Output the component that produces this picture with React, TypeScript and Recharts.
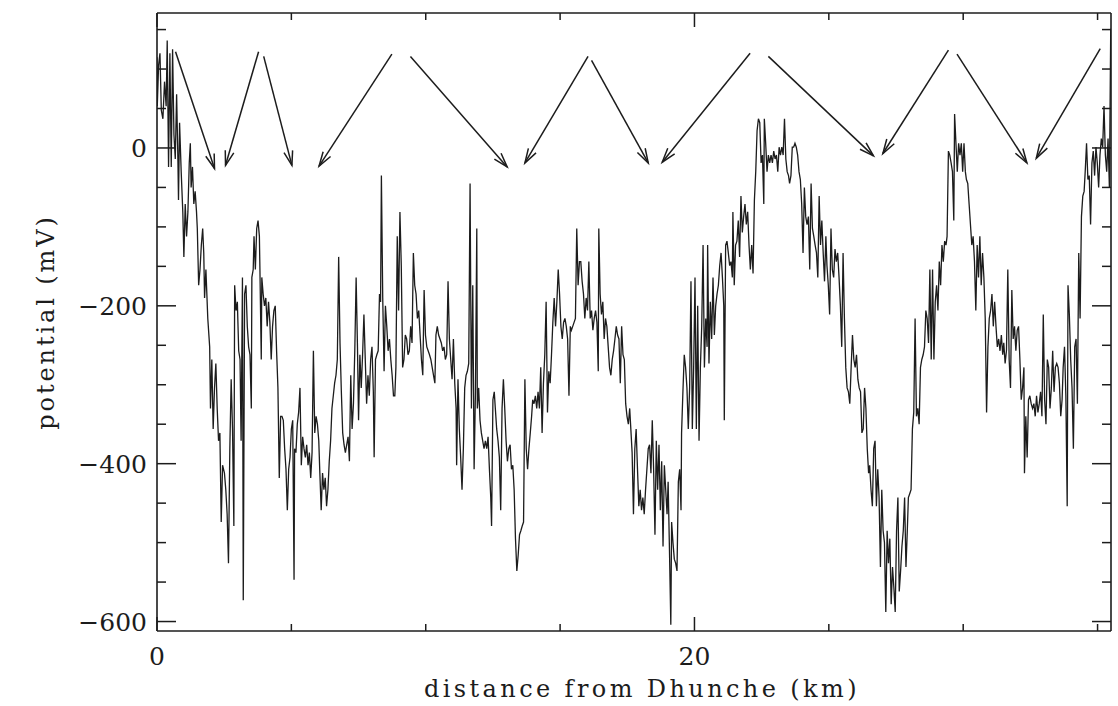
import { LineChart, Line, XAxis, YAxis, ReferenceLine } from "recharts";

const INK = "#1c1c1c";
const FONT = "'DejaVu Serif', 'Liberation Serif', serif";

// [distance km, potential mV], in four stretches
const trace0to9: [number, number][] = [
  [0, 115], [0.01, 53], [0.06, 105], [0.11, 120], [0.16, 48], [0.22, 37], [0.28, 84], [0.34, 53], [0.38, 136], [0.43, -24],
  [0.48, 120], [0.53, -24], [0.58, 125], [0.63, 17], [0.68, -14], [0.73, 68], [0.78, -19], [0.8, -66], [0.84, 32], [0.9, -30],
  [0.96, -81], [1.0, -138], [1.05, -71], [1.1, -112], [1.15, -81], [1.2, -19], [1.24, 6], [1.27, -50], [1.32, -24], [1.37, -71],
  [1.42, -55], [1.47, -81], [1.5, -102], [1.55, -174], [1.6, -154], [1.65, -123], [1.7, -102], [1.74, -133], [1.77, -190], [1.82, -154],
  [1.89, -216], [1.96, -252], [1.99, -330], [2.04, -268], [2.09, -356], [2.14, -304], [2.19, -273], [2.24, -330], [2.29, -371], [2.34, -361],
  [2.39, -474], [2.44, -402], [2.51, -412], [2.56, -433], [2.61, -464], [2.66, -526], [2.71, -381], [2.76, -293], [2.81, -356], [2.86, -479],
  [2.89, -174], [2.94, -206], [2.99, -195], [3.04, -257], [3.09, -268], [3.13, -371], [3.18, -164], [3.21, -573], [3.26, -185], [3.31, -174],
  [3.36, -226], [3.41, -252], [3.46, -262], [3.51, -330], [3.53, -164], [3.58, -154], [3.61, -112], [3.66, -154], [3.71, -102], [3.76, -92],
  [3.81, -112], [3.83, -154], [3.88, -268], [3.9, -164], [3.95, -185], [4.0, -200], [4.05, -190], [4.1, -226], [4.15, -195], [4.2, -221],
  [4.25, -268], [4.3, -226], [4.35, -206], [4.4, -200], [4.45, -257], [4.5, -304], [4.55, -418], [4.6, -340], [4.65, -340], [4.7, -345],
  [4.75, -381], [4.8, -407], [4.85, -459], [4.9, -407], [4.95, -392], [5.0, -356], [5.05, -345], [5.1, -547], [5.12, -381], [5.17, -386],
  [5.22, -350], [5.27, -335], [5.32, -304], [5.37, -402], [5.42, -366], [5.47, -381], [5.52, -392], [5.57, -376], [5.62, -402], [5.67, -386],
  [5.72, -418], [5.77, -386], [5.82, -257], [5.87, -361], [5.92, -340], [5.97, -350], [6.02, -371], [6.06, -412], [6.11, -459], [6.16, -412],
  [6.21, -433], [6.26, -418], [6.31, -454], [6.36, -433], [6.41, -397], [6.46, -371], [6.51, -330], [6.56, -314], [6.61, -298], [6.66, -288],
  [6.71, -268], [6.76, -138], [6.81, -247], [6.86, -309], [6.91, -361], [6.96, -376], [7.01, -386], [7.06, -376], [7.11, -366], [7.16, -397],
  [7.21, -288], [7.26, -356], [7.31, -324], [7.36, -257], [7.41, -164], [7.46, -252], [7.5, -345], [7.55, -262], [7.6, -304], [7.65, -262],
  [7.7, -211], [7.75, -268], [7.8, -324], [7.85, -288], [7.9, -314], [7.95, -268], [8.0, -252], [8.05, -309], [8.08, -392], [8.13, -268],
  [8.18, -262], [8.23, -257], [8.28, -185], [8.32, -195], [8.35, -35], [8.4, -190], [8.45, -283], [8.5, -200], [8.55, -226], [8.6, -257],
  [8.65, -242], [8.7, -268], [8.75, -288], [8.8, -314],
];

const trace9to18: [number, number][] = [
  [8.85, -314], [8.89, -278], [8.94, -112], [8.99, -206], [9.04, -81], [9.09, -149], [9.14, -278], [9.19, -268], [9.24, -237], [9.29, -242],
  [9.34, -262], [9.39, -257], [9.44, -226], [9.49, -247], [9.54, -133], [9.59, -174], [9.64, -185], [9.69, -216], [9.74, -206], [9.79, -237],
  [9.84, -268], [9.89, -288], [9.94, -180], [9.99, -237], [10.04, -252], [10.09, -257], [10.14, -262], [10.19, -268], [10.24, -278], [10.29, -288],
  [10.34, -298], [10.38, -237], [10.43, -226], [10.48, -237], [10.53, -242], [10.58, -247], [10.63, -257], [10.68, -252], [10.73, -268], [10.78, -262],
  [10.83, -169], [10.88, -242], [10.93, -268], [10.98, -293], [11.03, -242], [11.08, -298], [11.13, -330], [11.15, -402], [11.2, -293], [11.25, -356],
  [11.3, -392], [11.35, -433], [11.4, -381], [11.45, -304], [11.5, -288], [11.55, -283], [11.6, -273], [11.65, -45], [11.7, -330], [11.75, -174],
  [11.8, -407], [11.85, -309], [11.9, -102], [11.92, -330], [11.97, -304], [12.02, -345], [12.07, -361], [12.12, -371], [12.17, -381], [12.22, -371],
  [12.27, -381], [12.32, -366], [12.37, -407], [12.42, -443], [12.45, -479], [12.5, -319], [12.55, -309], [12.59, -330], [12.64, -356], [12.69, -371],
  [12.74, -392], [12.79, -459], [12.84, -330], [12.89, -293], [12.94, -330], [12.99, -371], [13.04, -397], [13.09, -381], [13.14, -376], [13.19, -407],
  [13.24, -402], [13.29, -433], [13.34, -495], [13.39, -536], [13.44, -516], [13.49, -490], [13.54, -485], [13.59, -479], [13.64, -474], [13.69, -293],
  [13.74, -381], [13.79, -407], [13.84, -381], [13.89, -361], [13.94, -340], [13.98, -319], [14.03, -324], [14.08, -314], [14.13, -330], [14.18, -309],
  [14.23, -330], [14.28, -278], [14.33, -361], [14.38, -298], [14.43, -262], [14.48, -195], [14.53, -335], [14.58, -283], [14.63, -298], [14.68, -262],
  [14.73, -221], [14.78, -190], [14.83, -226], [14.88, -195], [14.93, -154], [14.98, -185], [15.03, -226], [15.08, -242], [15.13, -221], [15.18, -216],
  [15.23, -226], [15.28, -242], [15.33, -314], [15.38, -226], [15.42, -231], [15.47, -226], [15.52, -221], [15.57, -216], [15.62, -102], [15.67, -174],
  [15.72, -144], [15.77, -144], [15.82, -169], [15.87, -185], [15.92, -216], [15.97, -190], [16.02, -206], [16.07, -144], [16.12, -216], [16.17, -206],
  [16.22, -231], [16.27, -216], [16.32, -206], [16.37, -221], [16.42, -283], [16.44, -102], [16.49, -185], [16.54, -211], [16.59, -195], [16.64, -242],
  [16.69, -216], [16.74, -226], [16.79, -252], [16.84, -278], [16.89, -288], [16.94, -268], [16.99, -257], [17.04, -242], [17.09, -226], [17.14, -237],
  [17.19, -242], [17.24, -298], [17.29, -226], [17.34, -262], [17.39, -268], [17.44, -324], [17.49, -340], [17.54, -350], [17.59, -330], [17.64, -361],
  [17.68, -386], [17.73, -464], [17.78, -381],
];

const trace18to27: [number, number][] = [
  [17.83, -356], [17.88, -407], [17.93, -454], [17.98, -433], [18.03, -459], [18.08, -443], [18.13, -464], [18.18, -433], [18.23, -407], [18.28, -381],
  [18.33, -376], [18.38, -412], [18.43, -345], [18.48, -407], [18.53, -490], [18.58, -371], [18.63, -433], [18.68, -376], [18.73, -459], [18.78, -397],
  [18.83, -505], [18.88, -402], [18.93, -433], [18.98, -464], [19.02, -423], [19.07, -510], [19.12, -604], [19.15, -474], [19.2, -500], [19.25, -521],
  [19.3, -526], [19.35, -536], [19.4, -423], [19.45, -407], [19.5, -459], [19.52, -361], [19.57, -309], [19.62, -262], [19.67, -278], [19.72, -304],
  [19.77, -356], [19.82, -304], [19.87, -169], [19.92, -356], [19.97, -278], [20.02, -164], [20.07, -356], [20.12, -200], [20.17, -371], [20.22, -278],
  [20.27, -226], [20.32, -123], [20.37, -278], [20.42, -216], [20.47, -252], [20.49, -123], [20.54, -273], [20.59, -195], [20.64, -242], [20.69, -164],
  [20.74, -237], [20.79, -200], [20.84, -185], [20.89, -174], [20.94, -149], [20.99, -133], [21.04, -164], [21.09, -200], [21.11, -345], [21.16, -123],
  [21.21, -118], [21.26, -133], [21.31, -149], [21.36, -144], [21.41, -164], [21.43, -81], [21.48, -174], [21.53, -123], [21.58, -118], [21.63, -92],
  [21.68, -138], [21.73, -61], [21.78, -107], [21.83, -87], [21.88, -71], [21.93, -97], [21.98, -81], [22.03, -123], [22.08, -154], [22.13, -123],
  [22.18, -159], [22.23, -66], [22.28, -30], [22.33, 22], [22.38, 37], [22.43, 32], [22.48, -19], [22.53, -9], [22.58, -71], [22.6, 37],
  [22.65, 6], [22.7, -30], [22.75, -9], [22.8, -19], [22.85, -9], [22.9, -19], [22.95, -4], [23.0, -14], [23.05, -9], [23.1, -30],
  [23.15, 1], [23.2, -9], [23.25, 1], [23.3, -9], [23.35, 37], [23.4, -14], [23.45, -30], [23.5, -35], [23.54, -45], [23.59, -35],
  [23.64, 1], [23.69, 1], [23.74, 6], [23.79, 1], [23.84, -9], [23.89, -30], [23.94, -40], [23.99, -71], [24.04, -133], [24.09, -50],
  [24.14, -87], [24.19, -97], [24.24, -87], [24.29, -154], [24.34, -45], [24.39, -102], [24.44, -112], [24.49, -123], [24.54, -133], [24.59, -164],
  [24.64, -61], [24.69, -123], [24.74, -92], [24.79, -133], [24.84, -169], [24.89, -112], [24.93, -149], [24.98, -174], [25.03, -211], [25.08, -102],
  [25.13, -154], [25.18, -164], [25.23, -128], [25.28, -144], [25.33, -133], [25.38, -164], [25.43, -200], [25.48, -252], [25.53, -133], [25.58, -216],
  [25.63, -278], [25.68, -304], [25.73, -309], [25.78, -324], [25.83, -278], [25.88, -237], [25.93, -268], [25.98, -278], [26.03, -262], [26.08, -293],
  [26.13, -304], [26.18, -309], [26.23, -361], [26.28, -356], [26.33, -304], [26.38, -330], [26.43, -381], [26.48, -412], [26.52, -402], [26.57, -433],
  [26.62, -454], [26.67, -381], [26.72, -371],
];

const trace27to36: [number, number][] = [
  [26.77, -454], [26.82, -407], [26.87, -443], [26.92, -531], [26.97, -433], [27.02, -485], [27.07, -500], [27.12, -588], [27.17, -485], [27.22, -526],
  [27.27, -495], [27.32, -578], [27.37, -531], [27.42, -557], [27.47, -588], [27.52, -485], [27.57, -443], [27.62, -562], [27.67, -536], [27.72, -505],
  [27.77, -485], [27.82, -443], [27.87, -531], [27.92, -485], [27.96, -443], [28.01, -438], [28.06, -433], [28.11, -356], [28.16, -335], [28.21, -216],
  [28.26, -340], [28.31, -330], [28.36, -350], [28.41, -278], [28.46, -268], [28.51, -262], [28.56, -252], [28.61, -206], [28.66, -216], [28.71, -247],
  [28.76, -154], [28.81, -268], [28.86, -154], [28.91, -268], [28.96, -195], [29.01, -174], [29.06, -206], [29.11, -144], [29.16, -174], [29.21, -123],
  [29.26, -144], [29.31, -118], [29.36, -123], [29.4, -112], [29.45, -4], [29.5, -9], [29.55, -19], [29.6, -30], [29.65, -92], [29.68, 43],
  [29.73, 6], [29.78, -30], [29.83, 6], [29.88, -9], [29.93, 6], [29.98, -30], [30.03, 6], [30.08, -30], [30.12, -40], [30.17, -45],
  [30.22, -71], [30.27, -97], [30.32, -123], [30.37, -112], [30.42, -144], [30.47, -206], [30.52, -123], [30.57, -164], [30.62, -112], [30.67, -174],
  [30.72, -133], [30.77, -164], [30.82, -216], [30.87, -335], [30.92, -252], [30.97, -216], [31.02, -206], [31.07, -185], [31.12, -226], [31.17, -195],
  [31.22, -226], [31.27, -252], [31.32, -242], [31.37, -257], [31.42, -237], [31.47, -262], [31.51, -247], [31.56, -273], [31.61, -257], [31.66, -154],
  [31.71, -268], [31.76, -304], [31.81, -180], [31.86, -242], [31.91, -226], [31.96, -257], [32.01, -231], [32.06, -226], [32.11, -268], [32.16, -319],
  [32.21, -304], [32.26, -278], [32.28, -412], [32.33, -340], [32.38, -392], [32.43, -319], [32.48, -314], [32.53, -324], [32.58, -330], [32.63, -324],
  [32.68, -340], [32.73, -314], [32.78, -335], [32.83, -324], [32.88, -309], [32.93, -340], [32.98, -211], [33.03, -319], [33.08, -350], [33.13, -268],
  [33.18, -278], [33.23, -330], [33.28, -304], [33.33, -257], [33.38, -309], [33.43, -278], [33.48, -273], [33.53, -278], [33.58, -298], [33.63, -340],
  [33.68, -319], [33.72, -278], [33.77, -252], [33.82, -314], [33.87, -454], [33.9, -174], [33.95, -211], [34.0, -268], [34.05, -304], [34.1, -381],
  [34.15, -252], [34.2, -242], [34.25, -324], [34.3, -133], [34.35, -216], [34.4, -87], [34.45, -61], [34.5, -55], [34.54, -30], [34.59, 6],
  [34.64, -40], [34.69, -35], [34.74, -97], [34.79, -19], [34.84, -4], [34.89, -35], [34.94, 1], [34.99, -19], [35.04, -50], [35.09, -9],
  [35.14, 12], [35.19, 1], [35.24, 53], [35.29, -9], [35.34, -30], [35.39, 12], [35.44, -50], [35.49, 151], [35.55, 140],
];

const distanceTicks = [0, 5, 10, 15, 20, 25, 30, 35];
const distanceLabels = [0, 20];
const potentialTicks = [-600, -550, -500, -450, -400, -350, -300, -250, -200, -150, -100, -50, 0, 50, 100, 150];
const potentialLabels = [-600, -400, -200, 0];

// arrows drawn over the trace: [from km, from mV, to km, to mV]
const arrows: [number, number, number, number][] = [
  [0.69, 122, 2.14, -26],
  [3.78, 122, 2.55, -22],
  [3.97, 116, 5.02, -22],
  [8.74, 119, 6.03, -23],
  [9.43, 116, 13.03, -24],
  [16.04, 116, 13.69, -19],
  [16.17, 111, 18.28, -19],
  [22.07, 120, 18.8, -18],
  [22.75, 116, 26.66, -10],
  [29.45, 124, 27.01, -7],
  [29.77, 119, 32.37, -19],
  [35.1, 126, 32.72, -13],
];

const data = [...trace0to9, ...trace9to18, ...trace18to27, ...trace27to36].map(([km, mv]) => ({ km, mv }));

const fmt = (v: number) => (v < 0 ? `\u2212${Math.abs(v)}` : `${v}`);

function LeftTick({ x, y, payload }: any) {
  const major = potentialLabels.includes(payload.value);
  return (
    <g>
      <line x1={x} x2={x + (major ? 19 : 9)} y1={y} y2={y} stroke={INK} strokeWidth={1.5} />
      {major && (
        <text x={x - 10} y={y + 9} textAnchor="end" fontSize={25} fontFamily={FONT} fill={INK}>
          {fmt(payload.value)}
        </text>
      )}
    </g>
  );
}

function RightTick({ x, y, payload }: any) {
  const major = potentialLabels.includes(payload.value);
  return <line x1={x} x2={x - (major ? 19 : 9)} y1={y} y2={y} stroke={INK} strokeWidth={1.5} />;
}

function BottomTick({ x, y, payload }: any) {
  const major = distanceLabels.includes(payload.value);
  return (
    <g>
      <line x1={x} x2={x} y1={y} y2={y - (major ? 14 : 7)} stroke={INK} strokeWidth={1.5} />
      {major && (
        <text x={x} y={y + 34} textAnchor="middle" fontSize={25} fontFamily={FONT} fill={INK}>
          {fmt(payload.value)}
        </text>
      )}
    </g>
  );
}

function TopTick({ x, y, payload }: any) {
  const major = distanceLabels.includes(payload.value);
  return <line x1={x} x2={x} y1={y} y2={y + (major ? 14 : 7)} stroke={INK} strokeWidth={1.5} />;
}

function Arrow(props: any) {
  const { x1, y1, x2, y2 } = props;
  const ang = Math.atan2(y2 - y1, x2 - x1);
  const len = 15;
  const spread = 0.3;
  const a = [x2 - len * Math.cos(ang - spread), y2 - len * Math.sin(ang - spread)];
  const b = [x2 - len * Math.cos(ang + spread), y2 - len * Math.sin(ang + spread)];
  return (
    <g stroke={INK} strokeWidth={1.5} fill="none">
      <line x1={x1} y1={y1} x2={x2} y2={y2} />
      <polyline points={`${a[0]},${a[1]} ${x2},${y2} ${b[0]},${b[1]}`} />
    </g>
  );
}

function XTitle(props: any) {
  const { x, y, width } = props.viewBox;
  return (
    <text x={x + width / 2 + 8} y={y + 66} textAnchor="middle" fontSize={24} letterSpacing={3.4} fontFamily={FONT} fill={INK}>
      distance from Dhunche (km)
    </text>
  );
}

function YTitle(props: any) {
  const { y, height } = props.viewBox;
  const cx = 46;
  const cy = y + height / 2;
  return (
    <text
      x={cx}
      y={cy}
      transform={`rotate(-90, ${cx}, ${cy})`}
      textAnchor="middle"
      dominantBaseline="central"
      fontSize={24}
      letterSpacing={2.9}
      fontFamily={FONT}
      fill={INK}
    >
      potential (mV)
    </text>
  );
}

export default function App() {
  const axisLine = { stroke: INK, strokeWidth: 1.6 };
  return (
    <div style={{ position: "absolute", left: 0, top: 0, background: "#fff" }}>
      <LineChart width={1118} height={706} data={data} margin={{ top: 12, right: 6, bottom: 0, left: 0 }}>
        <XAxis
          dataKey="km"
          type="number"
          domain={[0, 35.5]}
          allowDataOverflow
          ticks={distanceTicks}
          interval={0}
          height={75}
          tickSize={0}
          tickMargin={0}
          tickLine={false}
          axisLine={axisLine}
          tick={<BottomTick />}
          label={XTitle}
        />
        <XAxis
          xAxisId="top"
          orientation="top"
          dataKey="km"
          type="number"
          domain={[0, 35.5]}
          allowDataOverflow
          ticks={distanceTicks}
          interval={0}
          height={1}
          tickSize={0}
          tickMargin={0}
          tickLine={false}
          axisLine={axisLine}
          tick={<TopTick />}
        />
        <YAxis
          type="number"
          domain={[-612, 171]}
          allowDataOverflow
          ticks={potentialTicks}
          interval={0}
          width={157}
          tickSize={0}
          tickMargin={0}
          tickLine={false}
          axisLine={axisLine}
          tick={<LeftTick />}
          label={YTitle}
        />
        <YAxis
          yAxisId="right"
          orientation="right"
          type="number"
          domain={[-612, 171]}
          allowDataOverflow
          ticks={potentialTicks}
          interval={0}
          width={1}
          tickSize={0}
          tickMargin={0}
          tickLine={false}
          axisLine={axisLine}
          tick={<RightTick />}
        />
        <Line
          type="linear"
          dataKey="mv"
          stroke={INK}
          strokeWidth={1.3}
          dot={false}
          activeDot={false}
          isAnimationActive={false}
        />
        {arrows.map(([fx, fy, tx, ty], i) => (
          <ReferenceLine
            key={i}
            segment={[
              { x: fx, y: fy },
              { x: tx, y: ty },
            ]}
            ifOverflow="visible"
            shape={Arrow}
          />
        ))}
      </LineChart>
    </div>
  );
}
